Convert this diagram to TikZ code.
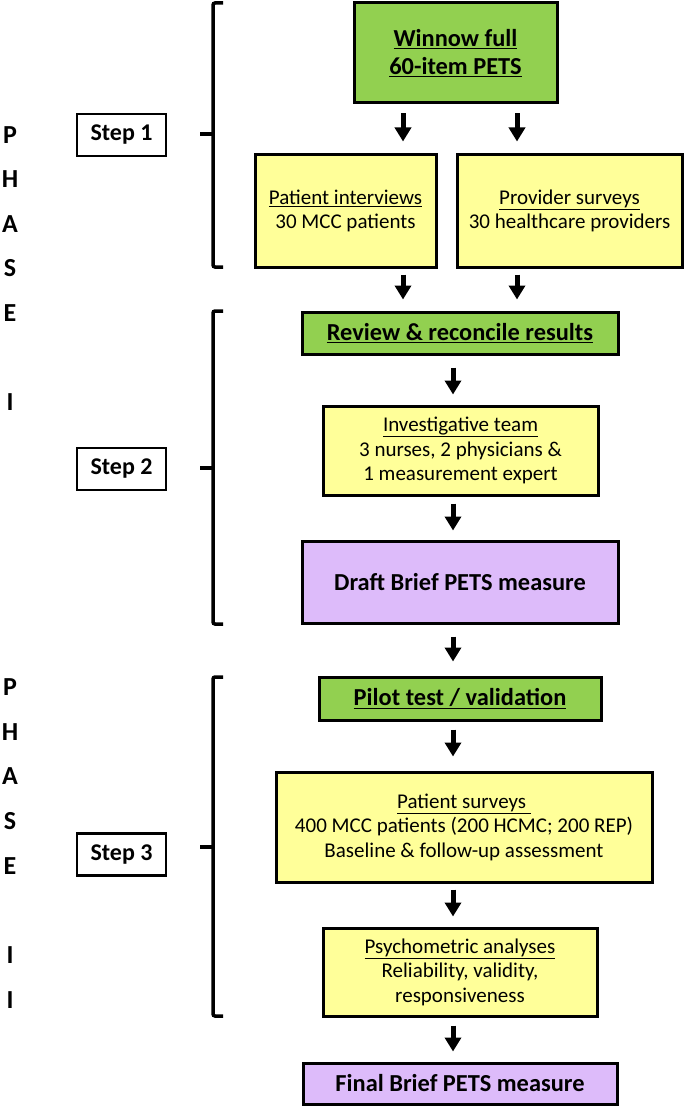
\documentclass[tikz,border=0pt]{standalone}
\usepackage{fontspec}
\setmainfont{Carlito}
\usetikzlibrary{arrows.meta}
\definecolor{boxgreen}{HTML}{92D050}
\definecolor{boxyellow}{HTML}{FFFF99}
\definecolor{boxpurple}{HTML}{DDBBFA}
\tikzset{
  box/.style={draw=black, line width=3pt, inner sep=0pt, align=center, anchor=center},
  greenbox/.style={box, fill=boxgreen, font=\fontsize{24.4}{28}\selectfont\bfseries},
  yellowbox/.style={box, fill=boxyellow, font=\fontsize{21}{24.5}\selectfont},
  purplebox/.style={box, fill=boxpurple, font=\fontsize{24.4}{28}\selectfont\bfseries},
  stepbox/.style={box, fill=white, line width=2.5pt, font=\fontsize{24}{26}\selectfont\bfseries},
  flow/.style={-{Triangle[length=14pt,width=16pt]}, line width=5pt},
  bracket/.style={line width=3.5pt, rounded corners=2pt},
  phase/.style={font=\fontsize{26}{28}\selectfont\bfseries, inner sep=0pt, anchor=center}
}
\begin{document}
\begin{tikzpicture}[x=1pt,y=-1pt]
\useasboundingbox (0,0) rectangle (685,1107);

% column coordinates for arrows
\coordinate (xa) at (403,0);
\coordinate (xb) at (517,0);
\coordinate (xc) at (453,0);

% boxes
\node[greenbox, minimum width=203pt, minimum height=100pt] (win) at (455.5,53)
  {\underline{Winnow full}\\\underline{60-item PETS}};
\node[yellowbox, minimum width=181pt, minimum height=112pt] (pi) at (345.5,211)
  {\underline{Patient interviews}\\30 MCC patients};
\node[yellowbox, minimum width=225pt, minimum height=112pt] (ps) at (569.5,211)
  {\underline{Provider surveys}\\30 healthcare providers};
\node[greenbox, minimum width=316pt, minimum height=42pt] (rev) at (460,333)
  {\underline{Review \& reconcile results}};
\node[yellowbox, minimum width=275pt, minimum height=89pt] (inv) at (460.5,450.5)
  {\underline{Investigative team}\\3 nurses, 2 physicians \&\\1 measurement expert};
\node[purplebox, minimum width=316pt, minimum height=82pt] (draft) at (460,582)
  {Draft Brief PETS measure};
\node[greenbox, minimum width=282pt, minimum height=43pt] (pilot) at (460,698.5)
  {\underline{Pilot test / validation}};
\node[yellowbox, minimum width=376pt, minimum height=110pt] (surv) at (464,827)
  {\underline{Patient surveys\ }\\400 MCC patients (200 HCMC; 200 REP)\\Baseline \& follow-up assessment};
\node[yellowbox, minimum width=274pt, minimum height=88pt] (psy) at (460,972)
  {\underline{Psychometric analyses}\\Reliability, validity,\\responsiveness};
\node[purplebox, minimum width=314pt, minimum height=41pt] (final) at (460,1083.5)
  {Final Brief PETS measure};

% step boxes
\node[stepbox, minimum width=89pt, minimum height=42pt] (s1) at (121.5,135) {Step 1};
\node[stepbox, minimum width=89pt, minimum height=42pt] (s2) at (121.5,469) {Step 2};
\node[stepbox, minimum width=89pt, minimum height=42pt] (s3) at (121.5,854.5) {Step 3};

% phase letters
\foreach \l [count=\i] in {P,H,A,S,E,{},I}
  \node[phase] (pa\i) at (10,{135+44.5*(\i-1)}) {\l};
\foreach \l [count=\i] in {P,H,A,S,E,{},I,I}
  \node[phase] (pb\i) at (10,{687+44.7*(\i-1)}) {\l};

% brackets
\draw[bracket] (223,3) -- (213,3) -- (213,267) -- (223,267);
\draw[bracket] (213,134) -- (200,134);
\draw[bracket] (223,311) -- (213,311) -- (213,624) -- (223,624);
\draw[bracket] (213,468) -- (200,468);
\draw[bracket] (223,677) -- (213,677) -- (213,1016) -- (223,1016);
\draw[bracket] (213,847) -- (200,847);

% arrows
\draw[flow, shorten <=9pt, shorten >=12pt] (win.south -| xa) -- (pi.north -| xa);
\draw[flow, shorten <=9pt, shorten >=12pt] (win.south -| xb) -- (ps.north -| xb);
\draw[flow, shorten <=6pt, shorten >=11pt] (pi.south -| xa) -- (rev.north -| xa);
\draw[flow, shorten <=6pt, shorten >=11pt] (ps.south -| xb) -- (rev.north -| xb);
\draw[flow, shorten <=12pt, shorten >=10pt] (rev.south -| xc) -- (inv.north -| xc);
\draw[flow, shorten <=7pt, shorten >=9pt] (inv.south -| xc) -- (draft.north -| xc);
\draw[flow, shorten <=12pt, shorten >=14pt] (draft.south -| xc) -- (pilot.north -| xc);
\draw[flow, shorten <=8pt, shorten >=14pt] (pilot.south -| xc) -- (surv.north -| xc);
\draw[flow, shorten <=6pt, shorten >=10pt] (surv.south -| xc) -- (psy.north -| xc);
\draw[flow, shorten <=8pt, shorten >=10pt] (psy.south -| xc) -- (final.north -| xc);
\end{tikzpicture}
\end{document}
